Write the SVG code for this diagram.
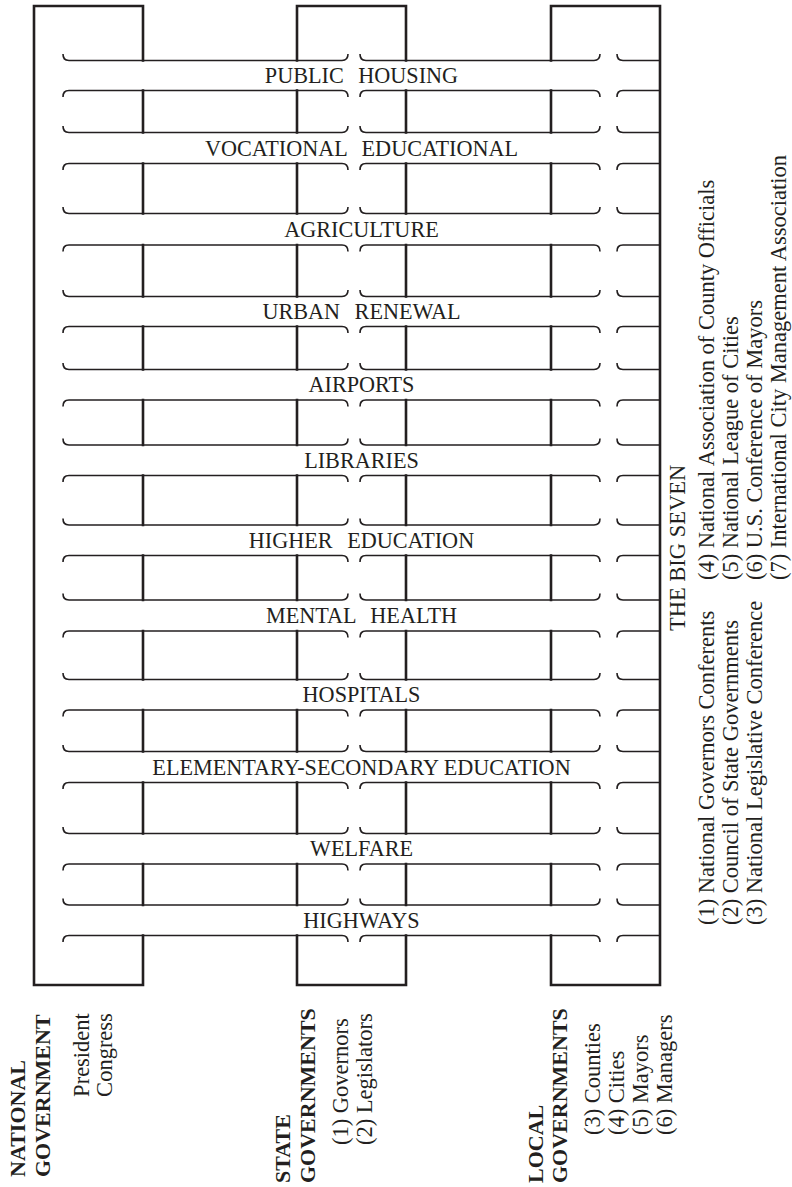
<svg xmlns="http://www.w3.org/2000/svg" width="792" height="1187" viewBox="0 0 792 1187">
<style>
.frame{fill:none;stroke:#231f20;stroke-width:2.6;stroke-linecap:square}
.bl{fill:none;stroke:#231f20;stroke-width:1.6}
.lbl{font-family:"Liberation Serif","Times New Roman",serif;font-size:22.2px;fill:#231f20;text-anchor:middle}
.wide{word-spacing:9px}
.hd{font-family:"Liberation Serif","Times New Roman",serif;font-size:22px;font-weight:bold;fill:#231f20}
.tx{font-family:"Liberation Serif","Times New Roman",serif;font-size:22.5px;fill:#231f20}
</style>
<rect width="792" height="1187" fill="#ffffff"/>
<g id="columns">
<path class="frame" d="M143,60.5 V6 H34 V985 H143 V935.5 M297,60.5 V6 H406 V60.5 M297,935.5 V985 H406 V935.5 M551,60.5 V6 H660 V985 H551 V935.5"/>
<path class="frame" d="M143,90.5V132.5M297,90.5V132.5M406,90.5V132.5M551,90.5V132.5
M143,163.5V213.5M297,163.5V213.5M406,163.5V213.5M551,163.5V213.5
M143,245V296.5M297,245V296.5M406,245V296.5M551,245V296.5
M143,326.5V369.5M297,326.5V369.5M406,326.5V369.5M551,326.5V369.5
M143,400V445M297,400V445M406,400V445M551,400V445
M143,475.5V525M297,475.5V525M406,475.5V525M551,475.5V525
M143,555.5V600M297,555.5V600M406,555.5V600M551,555.5V600
M143,631V679.5M297,631V679.5M406,631V679.5M551,631V679.5
M143,710V751.5M297,710V751.5M406,710V751.5M551,710V751.5
M143,782.5V833.5M297,782.5V833.5M406,782.5V833.5M551,782.5V833.5
M143,864V905M297,864V905M406,864V905M551,864V905"/>
</g>
<g id="bands">
<defs>
<path id="top" class="bl" d="M63,-6.5 C63,-2 64.5,0 69,0 H342 C346.5,0 348,-2 348,-6.5 M360,-6.5 C360,-2 361.5,0 366,0 H594 C598.5,0 600,-2 600,-6.5 M617,-6.5 C617,-2 618.5,0 623,0 H660"/>
<path id="bot" class="bl" d="M63,6.5 C63,2 64.5,0 69,0 H342 C346.5,0 348,2 348,6.5 M360,6.5 C360,2 361.5,0 366,0 H594 C598.5,0 600,2 600,6.5 M617,6.5 C617,2 618.5,0 623,0 H660"/>
</defs>
<g id="band-public-housing"><use href="#top" y="60.5"/><use href="#bot" y="90.5"/><text class="lbl wide" x="361.5" y="83.2">PUBLIC HOUSING</text></g>
<g id="band-vocational"><use href="#top" y="132.5"/><use href="#bot" y="163.5"/><text class="lbl wide" x="361.5" y="155.6">VOCATIONAL EDUCATIONAL</text></g>
<g id="band-agriculture"><use href="#top" y="213.5"/><use href="#bot" y="245"/><text class="lbl" x="361.5" y="236.8">AGRICULTURE</text></g>
<g id="band-urban-renewal"><use href="#top" y="296.5"/><use href="#bot" y="326.5"/><text class="lbl wide" x="361.5" y="319.1">URBAN RENEWAL</text></g>
<g id="band-airports"><use href="#top" y="369.5"/><use href="#bot" y="400"/><text class="lbl" x="361.5" y="392.3">AIRPORTS</text></g>
<g id="band-libraries"><use href="#top" y="445"/><use href="#bot" y="475.5"/><text class="lbl" x="361.5" y="467.8">LIBRARIES</text></g>
<g id="band-higher-education"><use href="#top" y="525"/><use href="#bot" y="555.5"/><text class="lbl wide" x="361.5" y="547.8">HIGHER EDUCATION</text></g>
<g id="band-mental-health"><use href="#top" y="600"/><use href="#bot" y="631"/><text class="lbl wide" x="361.5" y="623.1">MENTAL HEALTH</text></g>
<g id="band-hospitals"><use href="#top" y="679.5"/><use href="#bot" y="710"/><text class="lbl" x="361.5" y="702.3">HOSPITALS</text></g>
<g id="band-elementary-secondary"><use href="#top" y="751.5"/><use href="#bot" y="782.5"/><text class="lbl" x="361.5" y="774.6">ELEMENTARY-SECONDARY EDUCATION</text></g>
<g id="band-welfare"><use href="#top" y="833.5"/><use href="#bot" y="864"/><text class="lbl" x="361.5" y="856.3">WELFARE</text></g>
<g id="band-highways"><use href="#top" y="905"/><use href="#bot" y="935.5"/><text class="lbl" x="361.5" y="927.8">HIGHWAYS</text></g>
</g>
<g id="national-label">
<text class="hd" transform="translate(25,1177) rotate(-90)">NATIONAL</text>
<text class="hd" transform="translate(49.5,1177) rotate(-90)">GOVERNMENT</text>
<text class="tx" text-anchor="middle" transform="translate(89,1055) rotate(-90)">President</text>
<text class="tx" text-anchor="middle" transform="translate(111.5,1055) rotate(-90)">Congress</text>
</g>
<g id="state-label">
<text class="hd" transform="translate(290,1183) rotate(-90)">STATE</text>
<text class="hd" transform="translate(315,1183) rotate(-90)">GOVERNMENTS</text>
<text class="tx" transform="translate(348,1145) rotate(-90)">(1) Governors</text>
<text class="tx" transform="translate(372,1145) rotate(-90)">(2) Legislators</text>
</g>
<g id="local-label">
<text class="hd" transform="translate(543,1183) rotate(-90)">LOCAL</text>
<text class="hd" transform="translate(567,1183) rotate(-90)">GOVERNMENTS</text>
<text class="tx" transform="translate(600,1135) rotate(-90)">(3) Counties</text>
<text class="tx" transform="translate(624,1135) rotate(-90)">(4) Cities</text>
<text class="tx" transform="translate(648,1135) rotate(-90)">(5) Mayors</text>
<text class="tx" transform="translate(672,1135) rotate(-90)">(6) Managers</text>
</g>
<g id="big-seven">
<text class="tx" transform="translate(684.5,631) rotate(-90)">THE BIG SEVEN</text>
<text class="tx" transform="translate(713.5,925) rotate(-90)">(1) National Governors Conferents</text>
<text class="tx" transform="translate(737.5,925) rotate(-90)">(2) Council of State Governments</text>
<text class="tx" transform="translate(761.5,925) rotate(-90)">(3) National Legislative Conference</text>
<text class="tx" transform="translate(713.5,580) rotate(-90)">(4) National Association of County Officials</text>
<text class="tx" transform="translate(737.5,580) rotate(-90)">(5) National League of Cities</text>
<text class="tx" transform="translate(761.5,580) rotate(-90)">(6) U.S. Conference of Mayors</text>
<text class="tx" transform="translate(785.5,580) rotate(-90)">(7) International City Management Association</text>
</g>
</svg>
